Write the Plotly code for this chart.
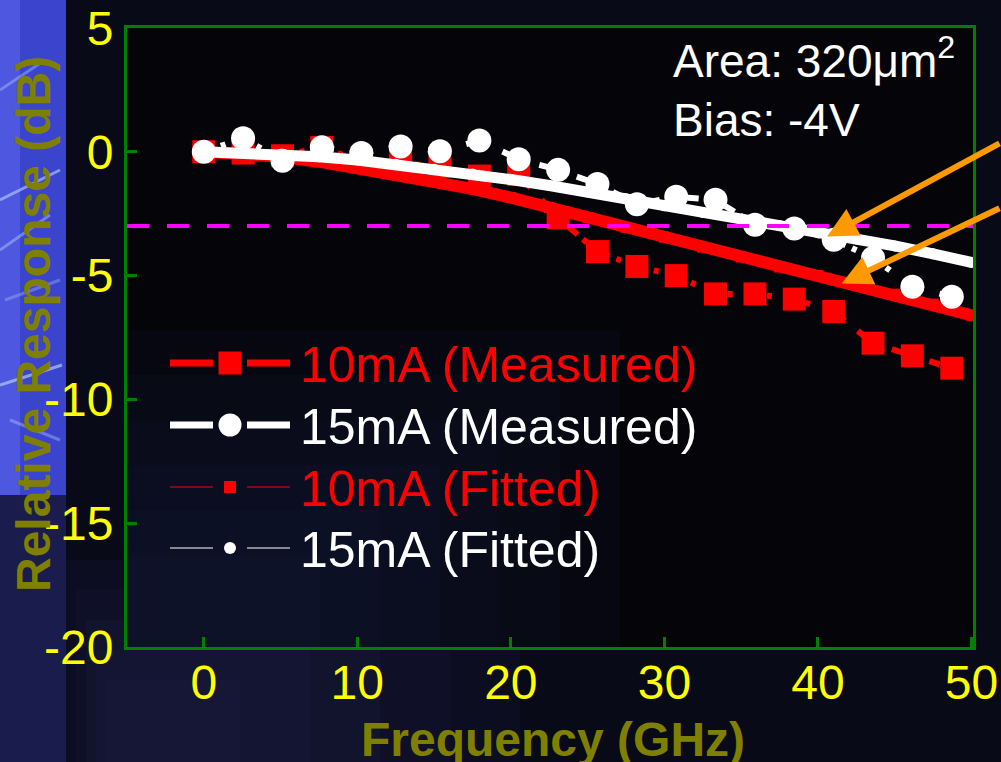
import plotly.graph_objects as go

# ---- data -------------------------------------------------------------
freq_meas = [0, 2.56, 5.13, 7.69, 10.26, 12.82, 15.38, 17.95, 20.51, 23.08,
             25.64, 28.21, 30.77, 33.33, 35.90, 38.46, 41.03, 43.59, 46.15, 48.72]
meas_10ma = [0, -0.05, -0.16, 0.18, -0.40, -0.45, -0.60, -0.98, -0.92, -2.67,
             -4.03, -4.63, -5.00, -5.74, -5.74, -5.95, -6.45, -7.73, -8.24, -8.74]
meas_15ma = [0, 0.55, -0.36, 0.18, -0.05, 0.21, 0.02, 0.46, -0.30, -0.73,
             -1.30, -2.12, -1.82, -1.94, -2.95, -3.10, -3.55, -4.29, -5.45, -5.85]

freq_fit = [0, 2.5, 5, 7.5, 10, 12.5, 15, 17.5, 20, 22.5, 25,
            27.5, 30, 32.5, 35, 37.5, 40, 42.5, 45, 47.5, 50]
fit_10ma = [0, -0.05, -0.20, -0.40, -0.65, -0.90, -1.20, -1.50, -1.85, -2.25, -2.65,
            -3.05, -3.45, -3.85, -4.25, -4.65, -5.00, -5.35, -5.75, -6.15, -6.60]
fit_15ma = [0, -0.03, -0.10, -0.20, -0.33, -0.50, -0.70, -0.90, -1.12, -1.36, -1.62,
            -1.90, -2.18, -2.45, -2.72, -2.98, -3.25, -3.52, -3.80, -4.12, -4.47]

threshold_db = -3

x_ticks = [0, 10, 20, 30, 40, 50]
x_tick_labels = ["0", "10", "20", "30", "40", "50"]
y_ticks = [5, 0, -5, -10, -15, -20]
y_tick_labels = ["5", "0", "-5", "-10", "-15", "-20"]

legend_names = ["10mA (Measured)", "15mA (Measured)", "10mA (Fitted)", "15mA (Fitted)"]
legend_colors = ["#FF0000", "#FFFFFF", "#FF0000", "#FFFFFF"]

# ---- layout geometry ----------------------------------------------------
W, H = 1001, 762
L, R, T, B = 127, 28, 28, 115
PW, PH = W - L - R, H - T - B
x_range = [-5.0, 50.1]
y_range = [-20, 5]
FONT = "Liberation Sans, Arial, sans-serif"
GREEN = "#008000"
RED = "#FF0000"
WHITE = "#FFFFFF"
ORANGE = "#FF9900"


def px_x(px):
    return (px - L) / PW


def px_y(py):
    return (T + PH - py) / PH


fig = go.Figure()

# 10 mA measured
fig.add_trace(go.Scatter(
    x=freq_meas, y=meas_10ma, mode="lines+markers", showlegend=False,
    line=dict(color=RED, width=6, dash="11px,7px,5px,16.3px"),
    marker=dict(symbol="square", size=23, color=RED),
))
# 10 mA fitted
fig.add_trace(go.Scatter(
    x=freq_fit, y=fit_10ma, mode="lines+markers", showlegend=False,
    line=dict(color=RED, width=12),
    marker=dict(symbol="square", size=11, color=RED),
))
# 15 mA measured
fig.add_trace(go.Scatter(
    x=freq_meas, y=meas_15ma, mode="lines+markers", showlegend=False,
    line=dict(color=WHITE, width=6, dash="11px,7px,5px,16.3px"),
    marker=dict(symbol="circle", size=24, color=WHITE),
))
# 15 mA fitted
fig.add_trace(go.Scatter(
    x=freq_fit, y=fit_15ma, mode="lines+markers", showlegend=False,
    line=dict(color=WHITE, width=11),
    marker=dict(symbol="circle", size=11, color=WHITE),
))
# -3 dB reference line
fig.add_trace(go.Scatter(
    x=x_range, y=[threshold_db, threshold_db], mode="lines", showlegend=False,
    line=dict(color="#FF00FF", width=4, dash="22px,18px"),
))

shapes = []


def rect(x0, y0, x1, y1, color):
    shapes.append(dict(type="rect", xref="paper", yref="paper", layer="below",
                       x0=px_x(x0), x1=px_x(x1), y0=px_y(y1), y1=px_y(y0),
                       fillcolor=color, line=dict(width=0)))


# background: bright blue strip on the far left, dim navy elsewhere
rect(0, 0, 66, 495, "rgb(58,68,205)")
rect(0, 0, 20, 495, "rgba(90,100,235,0.6)")
rect(0, 495, 66, H, "rgb(26,28,78)")
for k in range(5):
    rect(66 + k * 10, 560 + k * 30, 520 - k * 70, H, "rgba(40,44,90,0.12)")
for (xa, ya, xb, yb, op) in [(0, 200, 60, 170, 0.55), (0, 250, 50, 215, 0.4),
                             (0, 385, 62, 365, 0.6), (10, 420, 60, 440, 0.35),
                             (0, 90, 45, 60, 0.35), (5, 300, 60, 280, 0.3)]:
    shapes.append(dict(type="line", xref="paper", yref="paper", layer="below",
                       x0=px_x(xa), y0=px_y(ya), x1=px_x(xb), y1=px_y(yb),
                       line=dict(color="rgba(200,220,255,%.2f)" % op, width=3)))
# plot area: nearly black with a faint blue haze toward the lower left
rect(L, T, L + PW, T + PH, "rgb(4,4,9)")
for k in range(6):
    rect(L, 330 + k * 45, 620 - k * 60, T + PH, "rgba(32,36,80,0.10)")

# custom legend: symbol glyphs
legend_rows = [363, 425, 487, 548]
for i, yc in enumerate(legend_rows):
    color = legend_colors[i]
    measured = i < 2
    lw = 7 if measured else 1.2
    for (xa, xb) in [(170, 213), (247, 290)]:
        shapes.append(dict(type="line", xref="paper", yref="paper",
                           x0=px_x(xa), x1=px_x(xb), y0=px_y(yc), y1=px_y(yc),
                           line=dict(color=color, width=lw)))
    half = 11.5 if measured else 6
    kind = "rect" if i % 2 == 0 else "circle"
    shapes.append(dict(type=kind, xref="paper", yref="paper",
                       x0=px_x(230 - half), x1=px_x(230 + half),
                       y0=px_y(yc + half), y1=px_y(yc - half),
                       fillcolor=color, line=dict(width=0)))

annotations = []
for i, yc in enumerate(legend_rows):
    annotations.append(dict(
        xref="paper", yref="paper", x=px_x(298), y=px_y(yc + 2),
        xanchor="left", yanchor="middle", showarrow=False,
        text=legend_names[i], font=dict(family=FONT, size=50, color=legend_colors[i])))

# device conditions
annotations.append(dict(
    xref="paper", yref="paper", x=px_x(671), y=px_y(58),
    xanchor="left", yanchor="middle", showarrow=False,
    text="Area: 320\u03bcm<sup>2</sup>", font=dict(family=FONT, size=46, color=WHITE)))
annotations.append(dict(
    xref="paper", yref="paper", x=px_x(671), y=px_y(120),
    xanchor="left", yanchor="middle", showarrow=False,
    text="Bias: -4V", font=dict(family=FONT, size=46, color=WHITE)))

# arrows pointing at the fitted curves
annotations.append(dict(
    x=40.6, y=-3.42, xref="x", yref="y", text="", showarrow=True,
    ax=213, ay=-94, axref="pixel", ayref="pixel",
    arrowhead=2, arrowsize=1, arrowwidth=6, arrowcolor=ORANGE))
annotations.append(dict(
    x=41.55, y=-5.32, xref="x", yref="y", text="", showarrow=True,
    ax=200, ay=-76, axref="pixel", ayref="pixel",
    arrowhead=2, arrowsize=1, arrowwidth=6, arrowcolor=ORANGE))

# axis titles
annotations.append(dict(
    xref="paper", yref="paper", x=px_x(553), y=px_y(739),
    xanchor="center", yanchor="middle", showarrow=False,
    text="<b>Frequency (GHz)</b>", font=dict(family=FONT, size=48, color="#808000")))
annotations.append(dict(
    xref="paper", yref="paper", x=px_x(33), y=px_y(324),
    xanchor="center", yanchor="middle", showarrow=False, textangle=-90,
    text="<b>Relative Response (dB)</b>", font=dict(family=FONT, size=48, color="#808000")))

axis_common = dict(
    showline=True, mirror=True, linecolor=GREEN, linewidth=3,
    ticks="inside", ticklen=10, tickwidth=3, tickcolor=GREEN,
    showgrid=False, zeroline=False, automargin=False,
    tickfont=dict(family=FONT, size=48, color="#FFFF00"),
)

fig.update_layout(
    width=W, height=H,
    margin=dict(l=L, r=R, t=T, b=B, pad=0, autoexpand=False),
    paper_bgcolor="rgb(9,10,24)",
    plot_bgcolor="rgba(0,0,0,0)",
    xaxis=dict(range=x_range, tickvals=x_ticks, ticktext=x_tick_labels,
               ticklabelstandoff=-9, **axis_common),
    yaxis=dict(range=y_range, tickvals=y_ticks, ticktext=y_tick_labels,
               ticklabelstandoff=1, **axis_common),
    shapes=shapes,
    annotations=annotations,
    showlegend=False,
)

fig.write_html("out.html")
